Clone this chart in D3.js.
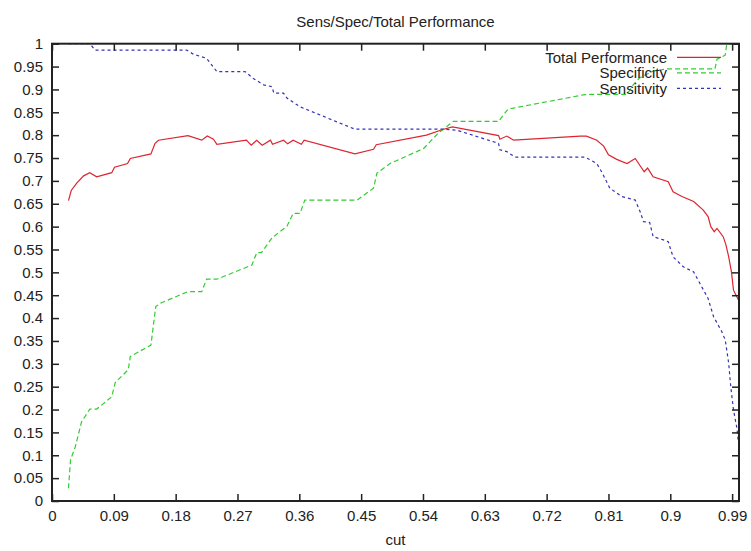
<!DOCTYPE html>
<html><head><meta charset="utf-8">
<script src="https://cdn.jsdelivr.net/npm/d3@7"></script>
<style>body{margin:0;background:#fff}svg{display:block}text{font-family:"Liberation Sans",Arial,sans-serif;fill:#222}</style>
</head><body><svg width="751" height="551"></svg>
<script>
const chartTitle = "Sens/Spec/Total Performance";
const xLabel = "cut";
const seriesNames = ["Total Performance", "Specificity", "Sensitivity"];
const xTicks = [0,0.09,0.18,0.27,0.36,0.45,0.54,0.63,0.72,0.81,0.9,0.99];
const xTickLabels = ["0","0.09","0.18","0.27","0.36","0.45","0.54","0.63","0.72","0.81","0.9","0.99"];
const yTicks = [0,0.05,0.1,0.15,0.2,0.25,0.3,0.35,0.4,0.45,0.5,0.55,0.6,0.65,0.7,0.75,0.8,0.85,0.9,0.95,1];
const yTickLabels = ["0","0.05","0.1","0.15","0.2","0.25","0.3","0.35","0.4","0.45","0.5","0.55","0.6","0.65","0.7","0.75","0.8","0.85","0.9","0.95","1"];

const totalX = [0.024,0.028,0.036,0.046,0.055,0.065,0.087,0.091,0.110,0.114,0.144,0.150,0.155,0.198,0.218,0.226,0.235,0.240,0.283,0.290,0.298,0.306,0.318,0.321,0.337,0.343,0.351,0.363,0.367,0.441,0.468,0.472,0.545,0.570,0.583,0.650,0.652,0.662,0.672,0.769,0.778,0.793,0.803,0.810,0.822,0.837,0.849,0.862,0.867,0.875,0.897,0.904,0.917,0.934,0.948,0.955,0.959,0.964,0.968,0.977,0.981,0.985,0.989,0.992,0.999];
const totalY = [0.657,0.679,0.695,0.711,0.718,0.709,0.718,0.730,0.738,0.749,0.759,0.782,0.789,0.799,0.789,0.798,0.791,0.780,0.789,0.778,0.789,0.778,0.789,0.780,0.789,0.781,0.789,0.780,0.789,0.759,0.769,0.779,0.800,0.813,0.818,0.799,0.791,0.798,0.789,0.798,0.798,0.789,0.776,0.757,0.747,0.738,0.749,0.720,0.728,0.709,0.698,0.676,0.666,0.655,0.636,0.622,0.600,0.589,0.596,0.578,0.560,0.534,0.501,0.461,0.440];

const specX = [0.024,0.027,0.034,0.043,0.055,0.065,0.087,0.092,0.111,0.114,0.144,0.151,0.157,0.198,0.218,0.225,0.240,0.291,0.298,0.305,0.320,0.342,0.351,0.361,0.368,0.444,0.468,0.473,0.492,0.541,0.562,0.584,0.650,0.657,0.664,0.773,0.783,0.837,0.846,0.855,0.875,0.895,0.965,0.968,0.980,0.982,0.990,1.0];
const specY = [0.028,0.090,0.119,0.173,0.201,0.201,0.228,0.259,0.287,0.316,0.341,0.425,0.432,0.458,0.458,0.485,0.485,0.516,0.543,0.543,0.575,0.601,0.629,0.629,0.658,0.658,0.684,0.717,0.738,0.771,0.804,0.830,0.830,0.844,0.857,0.888,0.889,0.889,0.910,0.925,0.940,0.945,0.945,0.966,0.975,0.997,1,1];

const sensX = [0.024,0.055,0.063,0.196,0.206,0.225,0.240,0.281,0.293,0.308,0.320,0.323,0.337,0.342,0.361,0.441,0.570,0.589,0.650,0.652,0.662,0.674,0.776,0.793,0.800,0.812,0.829,0.849,0.856,0.861,0.870,0.875,0.890,0.897,0.904,0.919,0.934,0.943,0.955,0.963,0.975,0.980,0.985,0.988,0.992,0.997,0.999];
const sensY = [1,1,0.986,0.986,0.977,0.968,0.939,0.939,0.924,0.910,0.906,0.892,0.892,0.881,0.862,0.813,0.813,0.811,0.782,0.768,0.764,0.752,0.752,0.738,0.720,0.684,0.666,0.658,0.633,0.611,0.609,0.578,0.571,0.567,0.534,0.512,0.501,0.476,0.443,0.403,0.370,0.352,0.301,0.250,0.199,0.159,0.130];

const colors = ["#dd2530", "#33cc33", "#3333b8"];
const dashes = [null, "5,3", "3,3"];

const svg = d3.select("svg");
const L = 52, R = 739, T = 43.7, B = 501;
const x = d3.scaleLinear().domain([0,1]).range([L,R]);
const y = d3.scaleLinear().domain([0,1]).range([B,T]);

// series (drawn first so the frame covers the parts lying on it)
const series = [
  {xs: totalX, ys: totalY},
  {xs: specX, ys: specY},
  {xs: sensX, ys: sensY}
];
const line = d3.line().x(d => x(d[0])).y(d => y(d[1]));
series.forEach((s,i) => {
  const pts = s.xs.map((v,j) => [v, s.ys[j]]);
  svg.append("path").datum(pts).attr("d", line)
    .attr("fill","none").attr("stroke",colors[i]).attr("stroke-width",1.2)
    .attr("stroke-dasharray", dashes[i]);
});

// axes with inward ticks
const fmtX = (d,i) => xTickLabels[i];
const fmtY = (d,i) => yTickLabels[i];
const gB = svg.append("g").attr("transform",`translate(0,${B})`)
  .call(d3.axisBottom(x).tickValues(xTicks).tickFormat(fmtX).tickSizeInner(-7).tickSizeOuter(0).tickPadding(9));
const gT = svg.append("g").attr("transform",`translate(0,${T})`)
  .call(d3.axisTop(x).tickValues(xTicks).tickFormat("").tickSizeInner(-7).tickSizeOuter(0));
const gL = svg.append("g").attr("transform",`translate(${L},0)`)
  .call(d3.axisLeft(y).tickValues(yTicks).tickFormat(fmtY).tickSizeInner(-7).tickSizeOuter(0).tickPadding(9));
const gR = svg.append("g").attr("transform",`translate(${R},0)`)
  .call(d3.axisRight(y).tickValues(yTicks).tickFormat("").tickSizeInner(-7).tickSizeOuter(0));
[gB,gT,gL,gR].forEach(g => {
  g.select(".domain").remove();
  g.selectAll(".tick line").attr("stroke","#222").attr("stroke-width",1.5);
  g.selectAll(".tick text").attr("font-size",15).attr("fill","#222").attr("font-family",'"Liberation Sans",Arial,sans-serif');
});
svg.append("rect").attr("x",L).attr("y",T).attr("width",R-L).attr("height",B-T)
  .attr("fill","none").attr("stroke","#222").attr("stroke-width",2);

// legend
seriesNames.forEach((name,i) => {
  const cy = 57.3 + i*15.5;
  svg.append("text").attr("x",667).attr("y",cy).attr("dy","0.35em")
    .attr("text-anchor","end").attr("font-size",15).text(name);
  svg.append("line").attr("x1",677).attr("x2",721).attr("y1",cy).attr("y2",cy)
    .attr("stroke",colors[i]).attr("stroke-width",1.2).attr("stroke-dasharray",dashes[i]);
});

// title and x label
svg.append("text").attr("x",(L+R)/2).attr("y",26.5).attr("text-anchor","middle").attr("font-size",15).text(chartTitle);
svg.append("text").attr("x",(L+R)/2).attr("y",545).attr("text-anchor","middle").attr("font-size",15).text(xLabel);
</script>
</body></html>
